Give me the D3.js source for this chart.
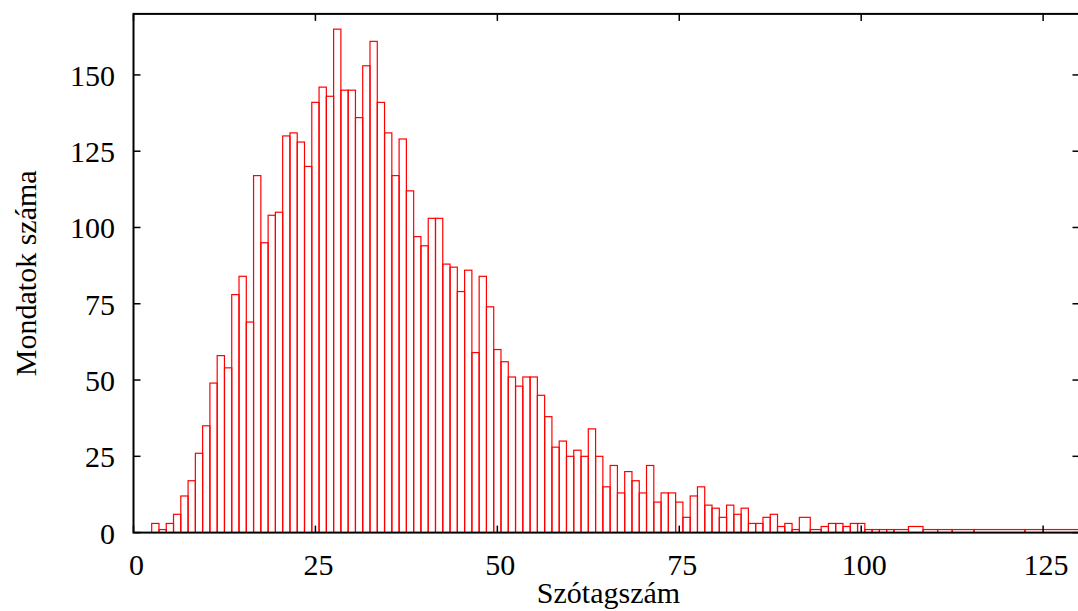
<!DOCTYPE html>
<html>
<head>
<meta charset="utf-8">
<script src="https://cdn.jsdelivr.net/npm/d3@7"></script>
<style>
  html, body { margin: 0; padding: 0; background: #fff; }
  svg { display: block; }
  text { font-family: "Liberation Serif", "Times New Roman", serif; fill: #000; }
</style>
</head>
<body>
<svg id="chart" width="1078" height="611"></svg>
<script>
// Syllable count (x) and number of sentences (y)
const syllables = [3,4,5,6,7,8,9,10,11,12,13,14,15,16,17,18,19,20,21,22,23,24,25,26,27,28,29,30,
  31,32,33,34,35,36,37,38,39,40,41,42,43,44,45,46,47,48,49,50,51,52,53,54,55,56,57,58,59,60,
  61,62,63,64,65,66,67,68,69,70,71,72,73,74,75,76,77,78,79,80,81,82,83,84,85,86,87,88,89,90,
  91,92,94,95,96,97,98,99,100,101,102,103,104,105,108,109,112,113,118,127];
const sentences = [3,1,3,6,12,17,26,35,49,58,54,78,84,69,117,95,104,105,130,131,128,120,141,146,143,165,145,145,
  136,153,161,141,131,117,129,112,97,94,103,103,88,87,79,86,59,84,74,60,56,51,48,51,51,45,38,28,30,25,
  27,25,34,25,15,22,13,20,17,13,22,10,13,13,10,5,12,15,9,8,5,9,6,8,3,3,5,6,2,3,
  1,5,1,2,3,3,2,3,3,1,1,1,1,1,2,1,1,1,1,1];
const xTicks = [0,25,50,75,100,125];
const yTicks = [0,25,50,75,100,125,150];
const xLabel = "Szótagszám";
const yLabel = "Mondatok száma";

const svg = d3.select("#chart");
const pL = 133.5, pR = 1079.5, pT = 13.9, pB = 532.6;

const x = d3.scaleLinear().domain([0, 130]).range([pL, pR]);
const y = d3.scaleLinear().domain([0, 170]).range([pB, pT]);

svg.append("defs").append("clipPath").attr("id", "clip")
  .append("rect").attr("x", pL).attr("y", pT).attr("width", pR - pL).attr("height", pB - pT);

// gnuplot-style autowidth boxes: each box reaches halfway to its neighbours
const n = syllables.length;
const boxes = syllables.map((v, i) => {
  const l = i === 0 ? v - (syllables[1] - v) / 2 : (syllables[i - 1] + v) / 2;
  const r = i === n - 1 ? v + (v - syllables[n - 2]) / 2 : (v + syllables[i + 1]) / 2;
  return { l, r, val: sentences[i] };
});

svg.append("g").attr("clip-path", "url(#clip)")
  .selectAll("rect").data(boxes).join("rect")
  .attr("x", d => x(d.l))
  .attr("width", d => x(d.r) - x(d.l))
  .attr("y", d => y(d.val))
  .attr("height", d => y(0) - y(d.val))
  .attr("fill", "none")
  .attr("stroke", "#ff0000")
  .attr("stroke-width", 1.2);

// ticks (inward, mirrored)
const tl = 7;
const tg = svg.append("g").attr("stroke", "#000").attr("stroke-width", 1.5);
xTicks.forEach(t => {
  tg.append("line").attr("x1", x(t)).attr("x2", x(t)).attr("y1", pB).attr("y2", pB - tl);
  tg.append("line").attr("x1", x(t)).attr("x2", x(t)).attr("y1", pT).attr("y2", pT + tl);
});
yTicks.forEach(t => {
  tg.append("line").attr("x1", pL).attr("x2", pL + tl).attr("y1", y(t)).attr("y2", y(t));
  tg.append("line").attr("x1", pR).attr("x2", pR - tl).attr("y1", y(t)).attr("y2", y(t));
});

// border
svg.append("rect").attr("x", pL).attr("y", pT).attr("width", pR - pL).attr("height", pB - pT)
  .attr("fill", "none").attr("stroke", "#000").attr("stroke-width", 2);

// tick labels
svg.append("g").selectAll("text").data(xTicks).join("text")
  .attr("x", d => x(d) + 3).attr("y", 575)
  .attr("text-anchor", "middle").attr("font-size", 30)
  .text(d => d);
svg.append("g").selectAll("text").data(yTicks).join("text")
  .attr("x", 115).attr("y", d => y(d) + 11)
  .attr("text-anchor", "end").attr("font-size", 30)
  .text(d => d);

// axis titles
svg.append("text").attr("x", (pL + pR) / 2 + 2).attr("y", 603)
  .attr("text-anchor", "middle").attr("font-size", 30).text(xLabel);
svg.append("text").attr("transform", `translate(36, ${(pT + pB) / 2}) rotate(-90)`)
  .attr("text-anchor", "middle").attr("font-size", 30).text(yLabel);
</script>
</body>
</html>
